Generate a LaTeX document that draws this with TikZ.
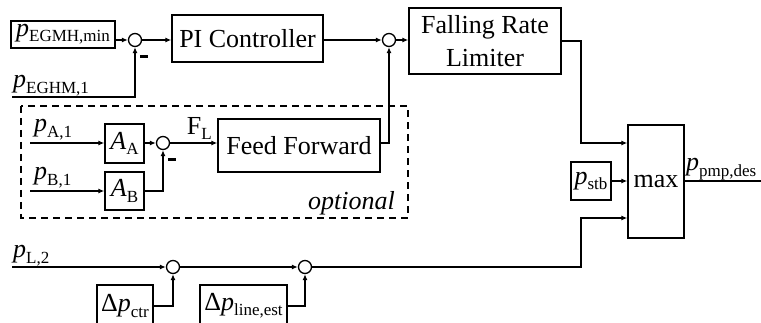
\documentclass[tikz,border=0pt]{standalone}
\usepackage{fontspec}
\setmainfont{Liberation Serif}
\usetikzlibrary{arrows.meta}

\newcommand{\sig}[2]{\textit{#1}\raisebox{-0.2em}{\fontsize{17}{17}\selectfont #2}}

\begin{document}
\begin{tikzpicture}[x=1pt,y=-1pt,
    font=\fontsize{26}{33}\selectfont,
    block/.style={draw, line width=1.3pt, inner sep=1pt, align=center},
    sum/.style={draw, circle, line width=1.3pt, minimum size=13pt, inner sep=0pt},
    link/.style={line width=1.3pt, -{Latex[length=6pt,width=5pt]}},
    wire/.style={line width=1.3pt},
    sign/.style={inner sep=0pt},
    tag/.style={inner sep=1pt}]
        \useasboundingbox (0,0) rectangle (761,323);

        % controller path
        \node[block, minimum width=104pt, minimum height=27pt] (pmin) at (63,34.5) {\sig{p}{EGMH,min}};
        \node[sum] (s1) at (135,40) {};
        \node[sign] (m1) at (144,57) {\rule{8pt}{3pt}};
        \node[block, minimum width=151pt, minimum height=47pt] (pi) at (247.5,38.5) {PI Controller};
        \node[sum] (s2) at (389,40) {};
        \node[block, minimum width=152pt, minimum height=66pt] (frl) at (485,41) {Falling Rate\\Limiter};
        \coordinate (egm) at (12,97);
        \node[tag, anchor=south west] (egmlab) at (egm) {\sig{p}{EGHM,1}};
        \draw[link] (pmin.east |- s1) -- (s1);
        \draw[link] (s1) -- (pi.west |- s1);
        \draw[link] (pi.east |- s2) -- (s2);
        \draw[link] (s2) -- (frl.west |- s2);
        \draw[link] (egm) -| (s1.south);

        % feed forward (optional)
        \draw[line width=1.8pt, dash pattern=on 7pt off 5pt] (21,106) rectangle (408,218);
        \node[tag, anchor=south east, font=\fontsize{26}{26}\selectfont\itshape] (opt) at (396,216) {optional};
        \coordinate (pa) at (30,143);
        \coordinate (pb) at (30,191);
        \node[tag, anchor=south west] (palab) at (33,141) {\sig{p}{A,1}};
        \node[tag, anchor=south west] (pblab) at (33,189) {\sig{p}{B,1}};
        \node[block, minimum width=39pt, minimum height=39pt] (aa) at (124.5,143.5) {\sig{A}{A}};
        \node[block, minimum width=39pt, minimum height=38pt] (ab) at (124.5,191) {\sig{A}{B}};
        \node[sum] (s5) at (163,143) {};
        \node[sign] (m5) at (172,160) {\rule{8pt}{3pt}};
        \node[block, minimum width=162pt, minimum height=53pt] (ff) at (299,145.5) {Feed Forward};
        \node[tag, anchor=south east] (fl) at (213,141) {F\raisebox{-0.2em}{\fontsize{17}{17}\selectfont L}};
        \draw[link] (pa) -- (aa.west |- pa);
        \draw[link] (pb) -- (ab);
        \draw[link] (aa.east |- s5) -- (s5);
        \draw[link] (ab) -| (s5.south);
        \draw[link] (s5) -- (ff.west |- s5);
        \draw[link] (ff.east |- s5) -| (s2.south);

        % line pressure path
        \coordinate (pl) at (12,267);
        \node[tag, anchor=south west] (pllab) at (pl) {\sig{p}{L,2}};
        \node[sum] (s3) at (173,267) {};
        \node[sum] (s4) at (305,267) {};
        \node[block, minimum width=56pt, minimum height=42pt] (dctr) at (125,306) {Δ\sig{p}{ctr}};
        \node[block, minimum width=87pt, minimum height=42pt] (dline) at (243.5,306) {Δ\sig{p}{line,est}};
        \draw[link] (pl) -- (s3);
        \draw[link] (s3) -- (s4);
        \draw[link] (dctr) -| (s3.south);
        \draw[link] (dline) -| (s4.south);

        % max selection
        \node[block, minimum width=56pt, minimum height=113pt] (max) at (656,181.5) {max};
        \node[block, minimum width=40pt, minimum height=38pt] (stb) at (591,181) {\sig{p}{stb}};
        \coordinate (out) at (761,181);
        \draw[link] (frl.east) -| (581,143) -- (max.west |- 0,143);
        \draw[link] (stb) -- (max.west |- stb);
        \draw[link] (s4) -- (581,267) |- (max.west |- 0,218);
        \draw[wire] (max.east |- out) -- (out);
        \node[tag, anchor=south west] (plab) at (685,181) {\sig{p}{pmp,des}};

    \end{tikzpicture}
\end{document}
